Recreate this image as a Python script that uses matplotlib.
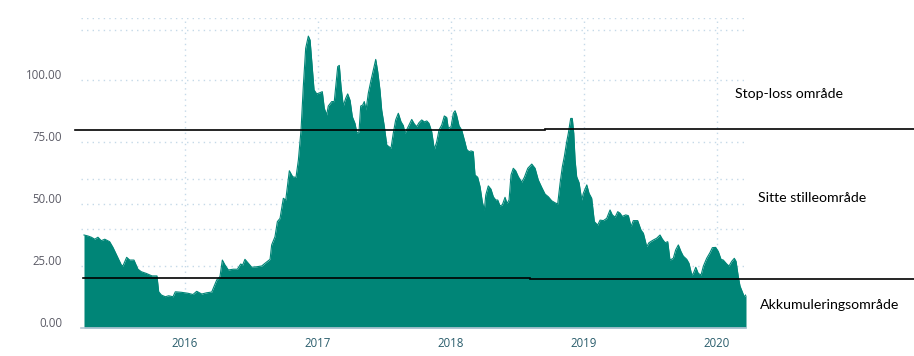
import matplotlib
matplotlib.use("Agg")
import matplotlib.pyplot as plt
import matplotlib.transforms as mtransforms

# ---- data (decimal year, price) ----
years = [
    2015.240, 2015.270, 2015.295, 2015.321, 2015.345, 2015.370, 2015.396, 2015.433, 2015.458, 2015.491,
    2015.521, 2015.533, 2015.561, 2015.584, 2015.616, 2015.646, 2015.671, 2015.709, 2015.734, 2015.752,
    2015.789, 2015.802, 2015.822, 2015.852, 2015.877, 2015.910, 2015.927, 2015.972, 2016.023, 2016.060,
    2016.088, 2016.126, 2016.163, 2016.201, 2016.218, 2016.239, 2016.263, 2016.281, 2016.301, 2016.326,
    2016.363, 2016.394, 2016.419, 2016.434, 2016.451, 2016.476, 2016.502, 2016.540, 2016.577, 2016.602,
    2016.640, 2016.652, 2016.677, 2016.695, 2016.715, 2016.740, 2016.758, 2016.785, 2016.810, 2016.835,
    2016.853, 2016.873, 2016.890, 2016.908, 2016.928, 2016.941, 2016.953, 2016.971, 2016.991, 2017.016,
    2017.033, 2017.048, 2017.066, 2017.078, 2017.104, 2017.123, 2017.134, 2017.149, 2017.161, 2017.174,
    2017.191, 2017.209, 2017.224, 2017.242, 2017.259, 2017.279, 2017.294, 2017.309, 2017.322, 2017.337,
    2017.349, 2017.362, 2017.379, 2017.400, 2017.417, 2017.435, 2017.450, 2017.467, 2017.480, 2017.500,
    2017.518, 2017.535, 2017.550, 2017.567, 2017.585, 2017.605, 2017.625, 2017.643, 2017.655, 2017.680,
    2017.706, 2017.725, 2017.743, 2017.761, 2017.781, 2017.801, 2017.819, 2017.836, 2017.856, 2017.876,
    2017.894, 2017.911, 2017.932, 2017.951, 2017.969, 2017.981, 2018.002, 2018.019, 2018.032, 2018.044,
    2018.062, 2018.082, 2018.102, 2018.120, 2018.137, 2018.152, 2018.169, 2018.182, 2018.202, 2018.220,
    2018.237, 2018.252, 2018.263, 2018.282, 2018.302, 2018.320, 2018.338, 2018.353, 2018.370, 2018.388,
    2018.408, 2018.423, 2018.438, 2018.453, 2018.470, 2018.488, 2018.508, 2018.533, 2018.553, 2018.579,
    2018.609, 2018.634, 2018.658, 2018.684, 2018.709, 2018.734, 2018.759, 2018.784, 2018.804, 2018.822,
    2018.839, 2018.854, 2018.872, 2018.884, 2018.902, 2018.914, 2018.925, 2018.935, 2018.947, 2018.965,
    2018.985, 2018.997, 2019.023, 2019.040, 2019.060, 2019.080, 2019.105, 2019.123, 2019.148, 2019.173,
    2019.198, 2019.215, 2019.236, 2019.256, 2019.273, 2019.290, 2019.316, 2019.336, 2019.356, 2019.373,
    2019.406, 2019.431, 2019.449, 2019.474, 2019.491, 2019.524, 2019.549, 2019.574, 2019.591, 2019.612,
    2019.632, 2019.649, 2019.674, 2019.692, 2019.712, 2019.732, 2019.749, 2019.775, 2019.792, 2019.813,
    2019.825, 2019.843, 2019.862, 2019.883, 2019.900, 2019.925, 2019.950, 2019.968, 2019.993, 2020.013,
    2020.033, 2020.050, 2020.076, 2020.093, 2020.114, 2020.133, 2020.146, 2020.163, 2020.176, 2020.193,
    2020.208, 2020.221,
]
prices = [
    37.5, 37.1, 36.6, 35.8, 36.6, 35.2, 35.8, 34.8, 32.5, 28.8,
    25.4, 25.0, 28.5, 27.4, 27.4, 23.7, 22.7, 22.0, 21.4, 21.0,
    21.0, 14.6, 13.3, 12.6, 13.0, 12.6, 14.6, 14.4, 14.0, 13.5,
    14.8, 13.7, 14.2, 14.5, 16.7, 19.4, 20.7, 27.4, 25.4, 23.4,
    23.7, 23.7, 25.8, 25.4, 27.7, 26.1, 24.5, 24.7, 25.0, 26.1,
    27.7, 33.5, 36.8, 42.9, 44.2, 52.3, 51.6, 63.4, 61.0, 60.7,
    67.7, 79.8, 97.3, 112.8, 117.7, 116.1, 108.1, 96.0, 94.4, 94.9,
    95.3, 88.6, 85.9, 89.5, 91.3, 91.3, 97.3, 105.4, 105.9, 97.3,
    89.5, 92.6, 94.4, 91.8, 85.2, 82.5, 78.5, 79.1, 89.5, 89.9,
    91.3, 87.9, 94.6, 100.0, 104.0, 108.3, 103.4, 96.0, 87.9, 81.2,
    73.8, 73.1, 72.5, 78.5, 83.9, 86.6, 83.2, 81.6, 78.5, 81.2,
    84.1, 82.3, 81.2, 82.8, 83.9, 83.1, 83.5, 82.5, 79.2, 72.0,
    75.1, 79.8, 81.9, 85.5, 84.9, 80.5, 81.2, 86.6, 87.6, 85.7,
    81.5, 79.8, 75.8, 72.0, 71.1, 71.4, 71.1, 61.7, 60.8, 57.0,
    50.9, 47.6, 53.6, 57.3, 56.0, 52.9, 51.6, 51.6, 49.2, 49.7,
    52.7, 50.2, 51.6, 61.7, 64.4, 63.4, 61.0, 58.8, 60.7, 64.4,
    66.1, 64.4, 59.7, 56.7, 54.0, 52.9, 51.3, 50.5, 50.0, 58.3,
    65.0, 69.1, 75.1, 78.5, 84.5, 84.5, 78.5, 67.7, 61.0, 58.6,
    51.6, 54.3, 57.7, 54.3, 52.3, 42.9, 41.5, 43.5, 43.3, 44.2,
    47.6, 45.6, 44.7, 46.9, 46.3, 45.0, 45.6, 45.3, 40.9, 43.3,
    43.3, 39.5, 38.2, 32.8, 34.4, 35.5, 36.2, 37.5, 35.9, 34.4,
    34.8, 27.4, 28.1, 31.5, 33.5, 30.8, 29.0, 27.7, 26.1, 21.4,
    22.0, 24.5, 22.0, 21.4, 24.9, 28.1, 30.4, 32.4, 32.5, 30.8,
    27.7, 27.4, 25.8, 25.0, 26.9, 28.1, 26.9, 20.7, 16.9, 14.6,
    12.6, 13.4,
]

ytick_values = [0, 25, 50, 75, 100]
ytick_labels = ["0.00", "25.00", "50.00", "75.00", "100.00"]
grid_levels = [25, 40, 50, 60, 75, 100, 120, 125]
xtick_years = [2016, 2017, 2018, 2019, 2020]
xtick_labels = ["2016", "2017", "2018", "2019", "2020"]

# zone boundary lines: (x_start, x_end, level)
upper_zone = [(2015.172, 2018.709, 79.7), (2018.709, 2021.49, 80.2)]
lower_zone = [(2015.2325, 2018.596, 20.0), (2018.596, 2021.49, 19.6)]
zone_texts = ["Stop-loss område", "Sitte stilleområde", "Akkumuleringsområde"]

AREA = "#008577"

fig = plt.figure(figsize=(9.14, 3.56), dpi=100)
ax = fig.add_axes([81 / 914, 28 / 356, 665 / 914, 310 / 356])
ax.set_xlim(2015.2175, 2020.221)
ax.set_ylim(0, 125)

for lv in grid_levels:
    ax.axhline(lv, color="#c5d9e8", lw=1.0, ls=(0, (1, 3)), zorder=0)
for yr in xtick_years:
    ax.axvline(yr, color="#c5d9e8", lw=1.0, ls=(0, (1, 3)), zorder=0)

ax.fill_between(years, prices, 0, color=AREA, lw=0, zorder=2)
ax.plot(years, prices, color=AREA, lw=0.8, zorder=2)

for spine in ["top", "right", "left"]:
    ax.spines[spine].set_visible(False)
ax.spines["bottom"].set_color("#b5c7d6")
ax.spines["bottom"].set_linewidth(1.2)

ax.set_yticks(ytick_values)
ax.set_yticklabels(ytick_labels)
ax.set_xticks(xtick_years)
ax.set_xticklabels(xtick_labels)
ax.tick_params(axis="y", length=0, pad=13.5, labelsize=8.3, labelcolor="#5b5b66")
ax.tick_params(axis="x", length=0, pad=6.5, labelsize=8.3, labelcolor="#2a5d6c")
for lab in ax.get_yticklabels() + ax.get_xticklabels():
    lab.set_fontfamily("Open Sans")
off = mtransforms.ScaledTranslation(0, 6 / 100, fig.dpi_scale_trans)
for lab in ax.get_yticklabels():
    lab.set_transform(lab.get_transform() + off)

for x0, x1, lv in upper_zone + lower_zone:
    ax.plot([x0, x1], [lv, lv], color="black", lw=1.2, clip_on=False, zorder=5)

fig.text(735 / 914, 1 - 94 / 356, zone_texts[0], fontsize=10.2, family="Lato", va="center", ha="left", color="black")
fig.text(758 / 914, 1 - 198 / 356, zone_texts[1], fontsize=10.2, family="Lato", va="center", ha="left", color="black")
fig.text(760 / 914, 1 - 305 / 356, zone_texts[2], fontsize=10.2, family="Lato", va="center", ha="left", color="black")

fig.savefig("out.png", dpi=100)
